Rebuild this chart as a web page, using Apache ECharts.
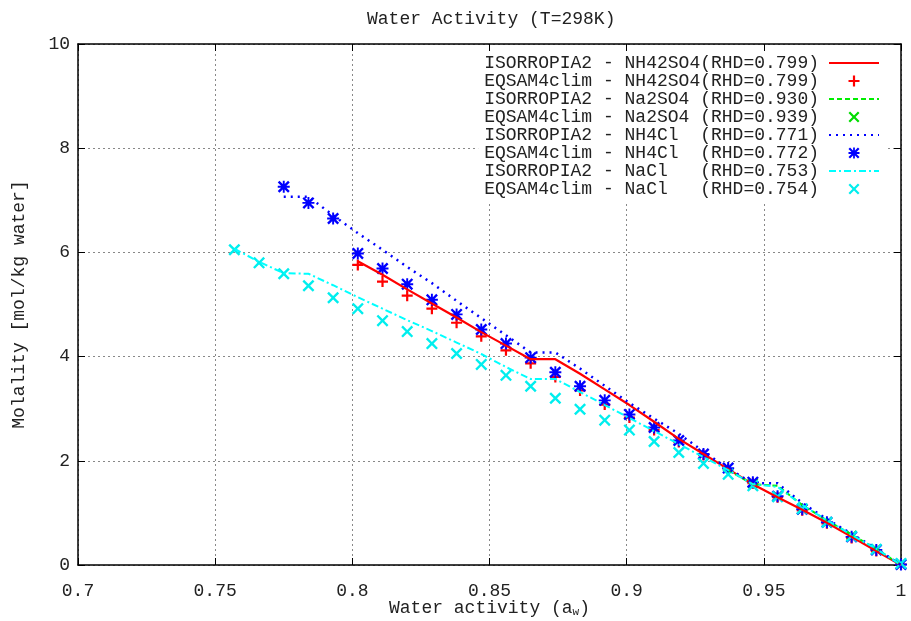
<!DOCTYPE html>
<html><head><meta charset="utf-8">
<script src="https://cdn.jsdelivr.net/npm/echarts@6/dist/echarts.min.js"></script>
<style>html,body{margin:0;padding:0;background:#fff}#c{width:911px;height:621px}</style>
</head><body><div id="c"></div>
<script>
const awGrid = [0.757,0.766,0.775,0.784,0.793,0.802,0.811,0.820,0.829,0.838,0.847,0.856,0.865,0.874,0.883,0.892,0.901,0.910,0.919,0.928,0.937,0.946,0.955,0.964,0.973,0.982,0.991,1.000];
const xTicks = [0.7,0.75,0.8,0.85,0.9,0.95,1];
const yTicks = [0,2,4,6,8,10];
// ISORROPIA2 curves (start index into awGrid)
const isoNH42SO4 = [5.83,5.57,5.29,5.02,4.75,4.47,4.21,3.95,3.95,3.67,3.37,3.07,2.75,2.42,2.13,1.84,1.55,1.30,1.06,0.81,0.54,0.27,0];      // from 0.802
const isoNa2SO4  = [1.82,1.55,1.52,1.15,0.86,0.58,0.31,0];                                                                           // from 0.937
const isoNH4Cl   = [7.07,7.07,6.71,6.37,6.05,5.72,5.41,5.07,4.74,4.41,4.08,4.08,3.77,3.44,3.11,2.81,2.52,2.18,1.85,1.57,1.57,1.19,0.88,0.60,0.31,0]; // from 0.775
const isoNaCl    = [6.07,5.82,5.60,5.59,5.37,5.14,4.92,4.70,4.49,4.27,4.05,3.80,3.57,3.57,3.32,3.07,2.82,2.57,2.32,2.07,1.82,1.55,1.50,1.15,0.86,0.58,0.31,0]; // from 0.757
// EQSAM4clim points
const eqNH42SO4 = [5.76,5.44,5.17,4.92,4.65,4.39,4.12,3.87,3.61,3.35,3.08,2.83,2.59,2.36,2.11,1.84,1.57,1.30,1.05,0.80,0.52,0.27,0.01]; // from 0.802
const eqNa2SO4  = [1.57,1.32,1.07,0.82,0.56,0.30,0.02];                                                                                // from 0.946
const eqNH4Cl   = [7.26,6.95,6.65,5.98,5.69,5.39,5.09,4.81,4.52,4.25,3.98,3.70,3.43,3.16,2.89,2.64,2.39,2.13,1.86,1.59,1.32,1.07,0.82,0.54,0.29,0.01]; // from 0.775
const eqNaCl    = [6.05,5.80,5.59,5.36,5.13,4.92,4.69,4.48,4.25,4.06,3.85,3.64,3.43,3.20,2.99,2.78,2.59,2.37,2.16,1.95,1.74,1.52,1.31,1.08,0.82,0.55,0.30,0.03]; // from 0.757
const names = [
  'ISORROPIA2 - NH42SO4(RHD=0.799)',
  'EQSAM4clim - NH42SO4(RHD=0.799)',
  'ISORROPIA2 - Na2SO4 (RHD=0.930)',
  'EQSAM4clim - Na2SO4 (RHD=0.939)',
  'ISORROPIA2 - NH4Cl  (RHD=0.771)',
  'EQSAM4clim - NH4Cl  (RHD=0.772)',
  'ISORROPIA2 - NaCl   (RHD=0.753)',
  'EQSAM4clim - NaCl   (RHD=0.754)'
];
const pairs = (ys, start) => ys.map((y, i) => [awGrid[start + i], y]);
const idx = v => awGrid.indexOf(v);

const FONT = 'Liberation Mono';
const TXT = '#222';
const PLUS = 'path://M4,0L6,0L6,4L10,4L10,6L6,6L6,10L4,10L4,6L0,6L0,4L4,4Z';
const CROSS = 'path://M0,1.4L1.4,0L5,3.6L8.6,0L10,1.4L6.4,5L10,8.6L8.6,10L5,6.4L1.4,10L0,8.6L3.6,5Z';
const STAR = 'path://M0,1.4L1.4,0L5,3.6L8.6,0L10,1.4L6.4,5L10,8.6L8.6,10L5,6.4L1.4,10L0,8.6L3.6,5ZM4.2,0L5.8,0L5.8,4.2L10,4.2L10,5.8L5.8,5.8L5.8,10L4.2,10L4.2,5.8L0,5.8L0,4.2L4.2,4.2Z';

function lineS(name, data, color, type, w) {
  return {name, type: 'line', data, symbol: 'none', showSymbol: false, animation: false,
    lineStyle: {color, width: w, type, opacity: 1}, itemStyle: {color, opacity: 0}};
}
function ptS(name, data, color, symbol, size) {
  return {name, type: 'scatter', data, symbol, symbolSize: size, animation: false,
    itemStyle: {color, opacity: 1}};
}

const chart = echarts.init(document.getElementById('c'), null, {renderer: 'canvas'});
const axisCommon = {
  axisLine: {show: true, onZero: false, lineStyle: {color: '#000', width: 1.5}},
  axisTick: {show: true, inside: true, length: 7, lineStyle: {color: '#000'}},
};
chart.setOption({
  backgroundColor: '#fff',
  animation: false,
  title: {text: 'Water Activity (T=298K)', left: 362, top: 5,
    textStyle: {fontFamily: FONT, fontSize: 18, fontWeight: 'normal', color: TXT}},
  grid: {left: 78, right: 10, top: 44, bottom: 56, containLabel: false, outerBoundsMode: 'none'},
  legend: {
    orient: 'vertical', right: 23, top: 52, align: 'right',
    backgroundColor: '#fff', padding: [2, 8, 4, 6],
    itemWidth: 50, itemHeight: 11, itemGap: 0,
    data: names,
    textStyle: {fontFamily: FONT, fontSize: 18, lineHeight: 18, color: TXT, padding: [0, 5, 0, 0]}
  },
  xAxis: [
    Object.assign({type: 'value', min: 0.7, max: 1, interval: 0.05, position: 'bottom',
      name: 'Water activity (a{s|w})', nameLocation: 'middle', nameGap: 33, nameMoveOverlap: false,
      nameTextStyle: {fontFamily: FONT, fontSize: 18, color: TXT, lineHeight: 20,
        rich: {s: {fontFamily: FONT, fontSize: 11, color: TXT, lineHeight: 20, padding: [8, 0, 0, 0]}}},
      axisLabel: {fontFamily: FONT, fontSize: 18, color: TXT, margin: 17,
        formatter: v => { const t = xTicks.find(k => Math.abs(k - v) < 1e-6); return t === undefined ? '' : String(t); }},
      splitLine: {show: true, lineStyle: {color: '#888', type: [2, 3], width: 1}}}, axisCommon),
    Object.assign({type: 'value', min: 0.7, max: 1, interval: 0.05, position: 'top',
      axisLabel: {show: false}, splitLine: {show: false}}, axisCommon)
  ],
  yAxis: [
    Object.assign({type: 'value', min: 0, max: 10, interval: 2, position: 'left',
      name: 'Molality [mol/kg water]', nameLocation: 'middle', nameGap: 50, nameRotate: 90, nameMoveOverlap: false,
      nameTextStyle: {fontFamily: FONT, fontSize: 18, color: TXT},
      axisLabel: {fontFamily: FONT, fontSize: 18, color: TXT, margin: 8,
        formatter: v => yTicks.includes(v) ? String(v) : ''},
      splitLine: {show: true, lineStyle: {color: '#888', type: [2, 3], width: 1}}}, axisCommon),
    Object.assign({type: 'value', min: 0, max: 10, interval: 2, position: 'right',
      axisLabel: {show: false}, splitLine: {show: false}}, axisCommon)
  ],
  series: [
    lineS(names[0], pairs(isoNH42SO4, idx(0.802)), '#ff0000', 'solid', 2.2),
    ptS(names[1], pairs(eqNH42SO4, idx(0.802)), '#ff0000', PLUS, 11),
    lineS(names[2], pairs(isoNa2SO4, idx(0.937)), '#00ee00', [5, 3], 2),
    ptS(names[3], pairs(eqNa2SO4, idx(0.946)), '#00dd00', CROSS, 11),
    lineS(names[4], pairs(isoNH4Cl, idx(0.775)), '#0000ff', [2, 5], 2.5),
    ptS(names[5], pairs(eqNH4Cl, idx(0.775)), '#0000ff', STAR, 12),
    lineS(names[6], pairs(isoNaCl, idx(0.757)), '#00ffff', [7, 3, 2, 3], 2),
    ptS(names[7], pairs(eqNaCl, idx(0.757)), '#00eeee', CROSS, 12)
  ]
});
</script>
</body></html>
